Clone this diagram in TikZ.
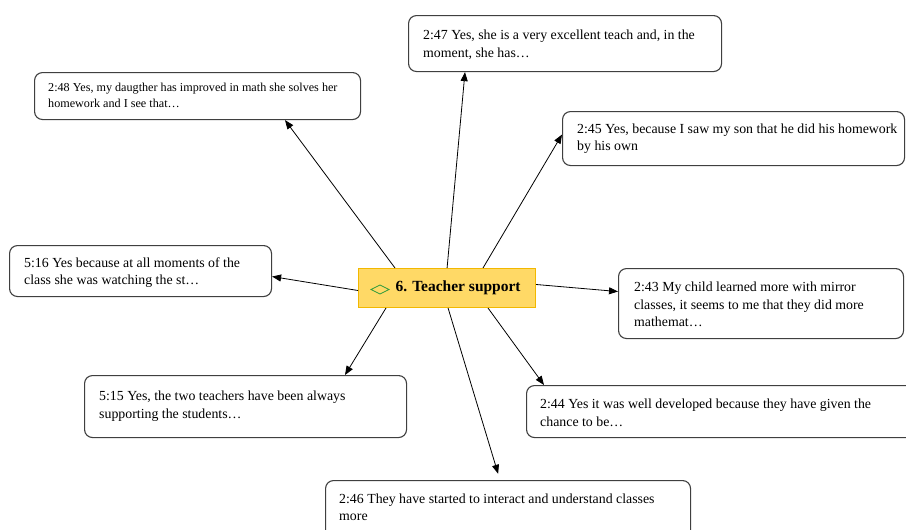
\documentclass[tikz,border=0pt]{standalone}
\usepackage{fontspec}
\setmainfont{Liberation Serif}
\usetikzlibrary{arrows.meta}
\definecolor{boxline}{HTML}{3F3F3F}
\definecolor{hubfill}{HTML}{FFD966}
\definecolor{hubline}{HTML}{F2B800}
\definecolor{codegreen}{HTML}{2E9A3C}
\begin{document}
\begin{tikzpicture}[x=1pt,y=-1pt,
  quote/.style={draw=boxline,line width=1.1pt,rounded corners=8pt,fill=white,
    anchor=north west,inner sep=0pt},
  quotetext/.style={anchor=north west,inner sep=0pt,align=left,
    font=\fontsize{13.85}{17.5}\selectfont},
  smalltext/.style={quotetext,font=\fontsize{12.15}{16}\selectfont},
  hub/.style={draw=hubline,fill=hubfill,line width=1pt,minimum width=177pt,
    minimum height=39pt,inner xsep=15pt,anchor=north west,
    font=\fontsize{15.5}{18}\selectfont\bfseries},
  link/.style={line width=0.8pt,-{Triangle[length=9pt,width=7pt]}}]
\useasboundingbox (0,0) rectangle (906,530);
\clip (0,0) rectangle (906,530);

% quotation boxes
\node[quote,minimum width=326pt,minimum height=47pt] (b48) at (34,72) {};
\node[quote,minimum width=313pt,minimum height=56pt] (b47) at (408,15) {};
\node[quote,minimum width=342pt,minimum height=54pt] (b45) at (562,111) {};
\node[quote,minimum width=262pt,minimum height=51pt] (b16) at (9,245) {};
\node[quote,minimum width=285pt,minimum height=70pt] (b43) at (618,268) {};
\node[quote,minimum width=400pt,minimum height=52pt] (b44) at (526,385) {};
\node[quote,minimum width=322pt,minimum height=62pt] (b15) at (84,375) {};
\node[quote,minimum width=365pt,minimum height=70pt] (b46) at (325,480) {};

% quotation texts
\node[smalltext] (t48) at ([shift={(14,11)}]b48.north west)
  {2:48 Yes, my daugther has improved in math she solves her\\homework and I see that…};
\node[quotetext] (t47) at ([shift={(15,15)}]b47.north west)
  {2:47 Yes, she is a very excellent teach and, in the\\moment, she has…};
\node[quotetext] (t45) at ([shift={(15,12.5)}]b45.north west)
  {2:45 Yes, because I saw my son that he did his homework\\by his own};
\node[quotetext] (t16) at ([shift={(15,12.5)}]b16.north west)
  {5:16 Yes because at all moments of the\\class she was watching the st…};
\node[quotetext] (t43) at ([shift={(16,14)}]b43.north west)
  {2:43 My child learned more with mirror\\classes, it seems to me that they did more\\mathemat…};
\node[quotetext] (t44) at ([shift={(14,14)}]b44.north west)
  {2:44 Yes it was well developed because they have given the\\chance to be…};
\node[quotetext] (t15) at ([shift={(15,16)}]b15.north west)
  {5:15 Yes, the two teachers have been always\\supporting the students…};
\node[quotetext] (t46) at ([shift={(14,13.5)}]b46.north west)
  {2:46 They have started to interact and understand classes\\more};

% central code
\node[hub] (c) at (358,268) {\hspace*{22pt}6. Teacher support};
\draw[codegreen,line width=0.8pt] ([shift={(13,1.5)}]c.west) -- ++(9,-4.5)
  -- ++(9,4.5) -- ++(-9,4.5) -- cycle;

% links from the code to its quotations
\draw[link] ([shift={(37,0)}]c.north west) -- ([shift={(251,0)}]b48.south west);
\draw[link] (c.north) -- ([shift={(57,0)}]b47.south west);
\draw[link] ([shift={(125,0)}]c.north west) -- ([shift={(0,-4)}]b45.west);
\draw[link] ([shift={(0,2.5)}]c.west) -- ([shift={(0,5.5)}]b16.east);
\draw[link] ([shift={(0,-3.5)}]c.east) -- ([shift={(0,-12)}]b43.west);
\draw[link] ([shift={(130,0)}]c.south west) -- ([shift={(18,0)}]b44.north west);
\draw[link] ([shift={(28,0)}]c.south west) -- ([shift={(261,0)}]b15.north west);
\draw[link,shorten >=6.5pt] ([shift={(1,0)}]c.south) -- ([shift={(175,0)}]b46.north west);
\end{tikzpicture}
\end{document}
